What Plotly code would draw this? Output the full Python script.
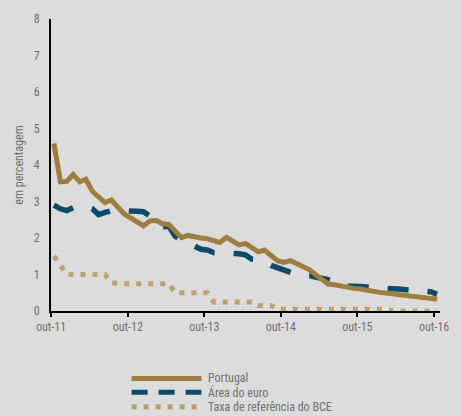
import pandas as pd
import plotly.graph_objects as go

# Monthly data, Oct 2011 .. Oct 2016
start_month = "2011-10-01"
n_months = 61

portugal = [4.59, 3.54, 3.55, 3.74, 3.54, 3.61, 3.28, 3.14, 2.97, 3.04,
            2.82, 2.65, 2.55, 2.42, 2.33, 2.47, 2.48, 2.39, 2.37, 2.19,
            2.01, 2.07, 2.02, 2.00, 1.98, 1.93, 1.88, 2.02, 1.90, 1.81,
            1.85, 1.74, 1.62, 1.67, 1.52, 1.38, 1.33, 1.38, 1.30, 1.22,
            1.13, 1.00, 0.85, 0.74, 0.72, 0.68, 0.65, 0.62, 0.60, 0.56,
            0.53, 0.51, 0.49, 0.47, 0.44, 0.42, 0.39, 0.38, 0.35, 0.34,
            0.32]

area_euro = [2.90, 2.80, 2.75, 2.83, 2.86, 2.85, 2.80, 2.64, 2.70, 2.75,
             2.76, 2.76, 2.74, 2.73, 2.72, 2.60, 2.40, 2.30, 2.33, 2.05,
             1.95, 1.85, 1.78, 1.69, 1.67, 1.60, 1.60, 1.60, 1.58, 1.57,
             1.54, 1.42, 1.40, 1.35, 1.25, 1.18, 1.12, 1.04, 1.00, 0.97,
             0.97, 0.93, 0.90, 0.86, 0.80, 0.76, 0.68, 0.68, 0.68, 0.66,
             0.64, 0.62, 0.62, 0.61, 0.60, 0.58, 0.57, 0.55, 0.53, 0.53,
             0.46]

taxa_bce = [1.50, 1.25, 1.00, 1.00, 1.00, 1.00, 1.00, 1.00, 1.00, 0.77,
            0.75, 0.75, 0.75, 0.75, 0.75, 0.75, 0.75, 0.75, 0.75, 0.50,
            0.50, 0.50, 0.50, 0.50, 0.50, 0.25, 0.25, 0.25, 0.25, 0.25,
            0.25, 0.25, 0.15, 0.15, 0.15, 0.05, 0.05, 0.05, 0.05, 0.05,
            0.05, 0.05, 0.05, 0.05, 0.05, 0.05, 0.05, 0.05, 0.05, 0.05,
            0.05, 0.05, 0.05, 0.00, 0.00, 0.00, 0.00, 0.00, 0.00, 0.00,
            0.00]

tick_labels = ["out-11", "out-12", "out-13", "out-14", "out-15", "out-16"]
tick_dates = ["2011-10-01", "2012-10-01", "2013-10-01", "2014-10-01",
              "2015-10-01", "2016-10-01"]

series_names = ["Portugal", "Área do euro", "Taxa de referência do BCE"]

# monthly averages plotted at mid-month
dates = pd.date_range(start_month, periods=n_months, freq="MS") + pd.Timedelta(days=14)

GOLD = "#9E7E3E"
BLUE = "#0C4A6A"
TAN = "#BFA06C"
GRAY = "#707070"
BG = "#DCDCDC"
FONT = "Liberation Sans Narrow, Arial Narrow, Roboto Condensed, Liberation Sans, sans-serif"

fig = go.Figure()
fig.add_trace(go.Scatter(x=dates, y=taxa_bce, mode="lines", name=series_names[2],
                         line=dict(color=TAN, width=5, dash="5px,7px")))
fig.add_trace(go.Scatter(x=dates, y=area_euro, mode="lines", name=series_names[1],
                         line=dict(color=BLUE, width=5.5, dash="21px,19px")))
fig.add_trace(go.Scatter(x=dates, y=portugal, mode="lines", name=series_names[0],
                         line=dict(color=GOLD, width=5)))

# custom legend (long key samples like the original)
legend_keys = [
    (series_names[0], GOLD, "solid", -0.231),
    (series_names[1], BLUE, "16px,11px", -0.278),
    (series_names[2], TAN, "5px,7px", -0.328),
]
x0k, x1k, xt = (133 - 51) / 395.7, (204 - 51) / 395.7, (209 - 51) / 395.7
for name, col, dash, yk in legend_keys:
    fig.add_shape(type="line", xref="paper", yref="paper", x0=x0k, x1=x1k, y0=yk, y1=yk,
                  line=dict(color=col, width=5, dash=dash))
    fig.add_annotation(xref="paper", yref="paper", x=xt, y=yk, text=name, showarrow=False,
                       xanchor="left", yanchor="middle", font=dict(family=FONT, size=12, color=GRAY))

fig.update_layout(
    width=461, height=416,
    margin=dict(l=51, r=14, t=15, b=105),
    paper_bgcolor=BG, plot_bgcolor=BG,
    showlegend=False,
    font=dict(family=FONT, size=12, color=GRAY),
)
fig.update_xaxes(
    type="date", range=["2011-10-01", "2016-10-29"],
    tickvals=tick_dates, ticktext=tick_labels,
    showgrid=False, zeroline=False,
    showline=True, linecolor="black", linewidth=2,
    ticks="outside", ticklen=4, tickwidth=1.5, tickcolor="black",
    tickfont=dict(family=FONT, size=12, color=GRAY),
)
fig.update_yaxes(
    range=[0, 8], tickvals=list(range(0, 9)),
    showgrid=False, zeroline=False,
    showline=True, linecolor="black", linewidth=2,
    ticks="", ticklabelstandoff=7,
    tickfont=dict(family=FONT, size=12, color=GRAY),
    title=dict(text="em percentagem", standoff=7, font=dict(family=FONT, size=12, color=GRAY)),
)

fig.write_html(
    "out.html",
    config={"displayModeBar": False},
    post_script="document.body.style.margin='0';document.body.style.overflow='hidden';"
                "document.body.style.background='#DCDCDC';",
)
